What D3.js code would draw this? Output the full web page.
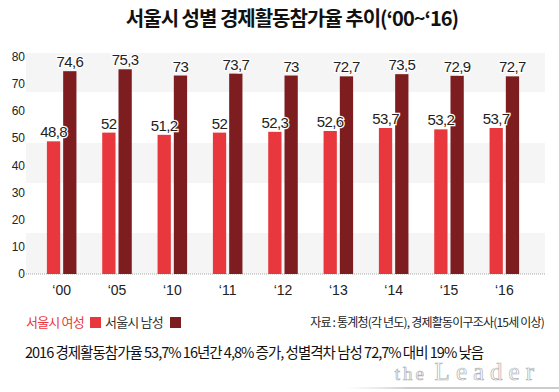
<!DOCTYPE html>
<html><head><meta charset="utf-8">
<script src="https://cdn.jsdelivr.net/npm/d3@7"></script>
<style>
body{margin:0;background:#fff;}
svg{display:block;}
text{font-family:"Liberation Sans Narrow","Noto Sans CJK KR",sans-serif;}
.kr{font-family:"Noto Sans CJK KR",sans-serif;}
</style></head>
<body><svg id="c" width="559" height="392"></svg>
<script>
const years = ["‘00","‘05","‘10","‘11","‘12","‘13","‘14","‘15","‘16"];
const female = [48.8,52,51.2,52,52.3,52.6,53.7,53.2,53.7];
const male = [74.6,75.3,73,73.7,73,72.7,73.5,72.9,72.7];
const seriesNames = ["서울시 여성","서울시 남성"];
const yTicks = [0,10,20,30,40,50,60,70,80];
const bands = [[0,15.1],[33.5,48.2],[66.9,81.3]];
const colors = ["#e8383d","#7d1d20"];

const svg = d3.select("#c");
const y = d3.scaleLinear().domain([0,80]).range([274,56.5]);
const x0 = d3.scaleBand().domain(years).range([34,532]).paddingInner(0.466).paddingOuter(0.233);
const x1 = d3.scaleBand().domain([0,1]).range([0,x0.bandwidth()]).paddingInner(0.184);
const fmt = v => String(v).replace(".", ",");

// title
svg.append("text").attr("class","kr").attr("x",292).attr("y",26).attr("text-anchor","middle")
  .attr("font-size",20).attr("font-weight",700).attr("fill","#111").attr("letter-spacing",-1)
  .text("서울시 성별 경제활동참가율 추이(‘00~‘16)");

// background bands
svg.append("g").selectAll("rect").data(bands).join("rect")
  .attr("x",26).attr("width",519)
  .attr("y",d=>y(d[1])).attr("height",d=>y(d[0])-y(d[1]))
  .attr("fill","#f5f5f5");

// baseline dotted
svg.append("line").attr("x1",26).attr("x2",545).attr("y1",y(0)).attr("y2",y(0))
  .attr("stroke","#aaa").attr("stroke-dasharray","1,1");

// y axis
const ya = svg.append("g").attr("transform","translate(25,0)")
  .call(d3.axisLeft(y).tickValues(yTicks).tickSize(0).tickPadding(0));
ya.select(".domain").remove();
ya.selectAll("text").attr("font-size",12).attr("fill","#222")
  .style("font-family",'"Liberation Sans Narrow",sans-serif');

// x axis
const xa = svg.append("g").attr("transform","translate(0,284)")
  .call(d3.axisBottom(x0).tickSize(0).tickPadding(0));
xa.select(".domain").remove();
xa.selectAll("text").attr("font-size",14).attr("fill","#222").attr("dy","0.75em")
  .style("font-family",'"Liberation Sans Narrow",sans-serif');

// bars
const data = years.map((yr,i)=>({yr, vals:[female[i], male[i]]}));
const g = svg.append("g").selectAll("g").data(data).join("g")
  .attr("transform",d=>`translate(${x0(d.yr)},0)`);
g.selectAll("rect").data(d=>d.vals.map((v,k)=>({v,k}))).join("rect")
  .attr("x",d=>x1(d.k)).attr("width",x1.bandwidth())
  .attr("y",d=>y(d.v)).attr("height",d=>y(0)-y(d.v))
  .attr("fill",d=>colors[d.k]);
g.selectAll("text").data(d=>d.vals.map((v,k)=>({v,k}))).join("text")
  .attr("x",d=>x1(d.k)+x1.bandwidth()/2).attr("y",d=>y(d.v)-4)
  .attr("text-anchor","middle").attr("font-size",15).attr("fill","#222")
  .attr("letter-spacing",-0.6)
  .attr("stroke","#fff").attr("stroke-width",2.5).attr("paint-order","stroke")
  .style("font-family",'"Liberation Sans Narrow",sans-serif')
  .text(d=>fmt(d.v));

// legend
const lg = svg.append("g");
lg.append("text").attr("class","kr").attr("x",26).attr("y",327).attr("font-size",13)
  .attr("fill",colors[0]).attr("letter-spacing",-0.8).text(seriesNames[0]);
lg.append("rect").attr("x",90).attr("y",317).attr("width",11).attr("height",11).attr("fill",colors[0]);
lg.append("text").attr("class","kr").attr("x",105).attr("y",327).attr("font-size",13)
  .attr("fill","#333").attr("letter-spacing",-0.8).text(seriesNames[1]);
lg.append("rect").attr("x",170).attr("y",317).attr("width",11).attr("height",11).attr("fill",colors[1]);

// source
svg.append("text").attr("class","kr").attr("x",544).attr("y",327).attr("text-anchor","end")
  .attr("font-size",12).attr("fill","#222").attr("letter-spacing",-0.8)
  .text("자료 : 통계청(각 년도), 경제활동이구조사(15세 이상)");

// subtitle
svg.append("text").attr("class","kr").attr("x",25).attr("y",358)
  .attr("font-size",14.5).attr("fill","#111").attr("letter-spacing",-1)
  .text("2016 경제활동참가율 53,7% 16년간 4,8% 증가, 성별격차 남성 72,7% 대비 19% 낮음");

// watermark
const defs = svg.append("defs");
const grad = defs.append("linearGradient").attr("id","sh").attr("x1","0").attr("x2","1");
grad.append("stop").attr("offset","0").attr("stop-color","#ddd").attr("stop-opacity",0);
grad.append("stop").attr("offset","0.3").attr("stop-color","#ccc");
grad.append("stop").attr("offset","1").attr("stop-color","#ccc");
svg.append("rect").attr("x",345).attr("y",387).attr("width",214).attr("height",2).attr("fill","url(#sh)");
const wm = svg.append("text").attr("x",540).attr("y",380).attr("text-anchor","end")
  .attr("fill","#fff").attr("stroke","#b0b0b0").attr("stroke-width",0.7)
  .style("font-family",'"Liberation Serif",serif');
wm.append("tspan").attr("font-size",19).attr("letter-spacing",3).text("the ");
wm.append("tspan").attr("font-size",25).attr("letter-spacing",6).text("Leader");
</script></body></html>
